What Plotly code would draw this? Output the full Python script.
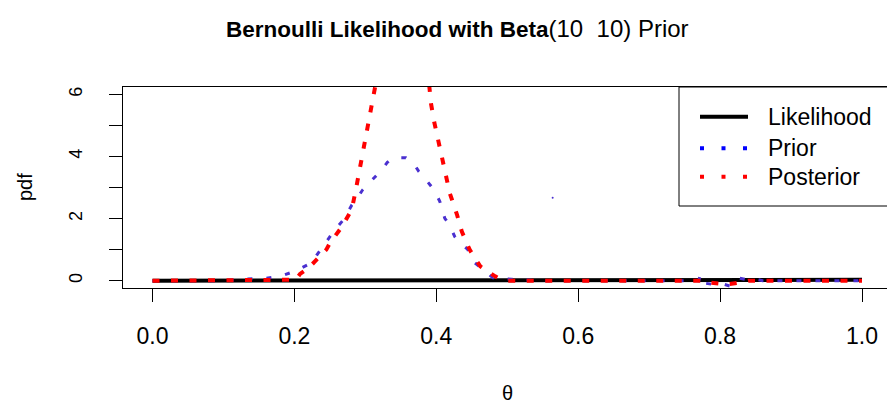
import plotly.graph_objects as go

# ---------------- data ----------------
theta_lik = [0.0, 0.23, 0.235, 1.0]
lik = [0.0, 0.0, 0.03, 0.03]

theta_prior = [0.0, 0.10, 0.13, 0.16, 0.18, 0.20, 0.21, 0.224, 0.232, 0.248, 0.257,
               0.269, 0.281, 0.287, 0.296, 0.307, 0.32, 0.331, 0.339, 0.351, 0.357,
               0.368, 0.375, 0.382, 0.388, 0.397, 0.405, 0.412, 0.418, 0.426, 0.435,
               0.444, 0.452, 0.463, 0.48, 0.506, 0.53, 0.55, 0.77, 0.772, 0.776,
               0.79, 0.80, 0.815, 0.826, 0.84, 0.85, 0.86, 1.0]
prior = [0.0, 0.0, 0.05, 0.08, 0.14, 0.30, 0.41, 0.57, 0.84, 1.37, 1.64,
         1.96, 2.44, 2.60, 2.92, 3.19, 3.49, 3.81, 3.96, 3.96, 3.96,
         3.78, 3.53, 3.35, 3.19, 2.92, 2.55, 2.01, 1.82, 1.42, 1.18,
         1.02, 0.62, 0.41, 0.09, 0.05, 0.03, 0.0, 0.0, 0.19, -0.07,
         -0.12, -0.08, -0.18, 0.09, 0.02, 0.05, 0.0, 0.0]

theta_post = [0.0, 0.19, 0.202, 0.208, 0.22, 0.245, 0.25, 0.267, 0.281, 0.287, 0.292,
              0.297, 0.301, 0.306, 0.311, 0.32, 0.335, 0.35, 0.365, 0.38, 0.39,
              0.3925, 0.397, 0.403, 0.408, 0.414, 0.419, 0.429, 0.436, 0.447, 0.462,
              0.483, 0.49, 0.50, 0.775, 0.78, 0.81, 0.83, 0.84, 1.0]
post = [0.0, 0.0, 0.03, 0.22, 0.41, 1.00, 1.21, 1.74, 2.30, 2.98, 3.57,
        4.16, 4.75, 5.33, 5.95, 7.0, 8.0, 8.3, 8.0, 7.2, 6.3,
        5.71, 5.12, 4.53, 3.94, 3.35, 2.82, 2.14, 1.58, 1.00, 0.46,
        0.14, 0.05, 0.0, 0.0, -0.05, -0.12, -0.05, 0.0, 0.0]

stray_theta = [0.564]
stray_val = [2.67]

x_ticks = [0.0, 0.2, 0.4, 0.6, 0.8, 1.0]
x_tick_labels = ["0.0", "0.2", "0.4", "0.6", "0.8", "1.0"]
y_ticks = [0, 2, 4, 6]
y_tick_labels = ["0", "2", "4", "6"]
legend_names = ["Likelihood", "Prior", "Posterior"]

# ---------------- layout geometry ----------------
W, H = 887, 405
L, T, B = 123, 87, 117
PW, PH = W - L, H - T - B
FONT = "Liberation Sans, Arial, sans-serif"


def px_x(px):
    return (px - L) / PW


def px_y(py):
    return (H - B - py) / PH


fig = go.Figure()
fig.add_trace(go.Scatter(x=theta_lik, y=lik, mode="lines",
                         line=dict(color="black", width=4), showlegend=False))
fig.add_trace(go.Scatter(x=theta_prior, y=prior, mode="lines",
                         line=dict(color="#4a30d0", width=3, dash="5px,14px"),
                         showlegend=False))
fig.add_trace(go.Scatter(x=theta_post, y=post, mode="lines",
                         line=dict(color="red", width=4, dash="7px,11.5px"),
                         showlegend=False))
fig.add_trace(go.Scatter(x=stray_theta, y=stray_val, mode="markers",
                         marker=dict(color="#4a30d0", size=2), showlegend=False))

# legend (drawn manually to mimic R's legend box)
shapes = [dict(type="rect", xref="paper", yref="paper",
               x0=px_x(679), x1=px_x(900), y0=px_y(206), y1=1.0,
               line=dict(color="black", width=1), fillcolor="white", layer="above")]
leg_styles = [dict(color="black", width=4),
              dict(color="blue", width=4, dash="4px,17.5px"),
              dict(color="red", width=4, dash="4px,17.5px")]
leg_rows = [116.7, 148.3, 176.7]
annotations = []
for name, st, row in zip(legend_names, leg_styles, leg_rows):
    shapes.append(dict(type="line", xref="paper", yref="paper",
                       x0=px_x(700), x1=px_x(748), y0=px_y(row), y1=px_y(row),
                       line=st, layer="above"))
    annotations.append(dict(text=name, xref="paper", yref="paper",
                            x=px_x(766), y=px_y(row), xanchor="left", yanchor="middle",
                            showarrow=False, font=dict(family=FONT, size=23, color="black")))

annotations.append(dict(text="pdf", xref="paper", yref="paper", x=px_x(25), y=px_y(187),
                        xanchor="center", yanchor="middle", textangle=-90, showarrow=False,
                        font=dict(family=FONT, size=20, color="black")))
annotations.append(dict(text="θ", xref="paper", yref="paper", x=px_x(507), y=px_y(393),
                        xanchor="center", yanchor="middle", showarrow=False,
                        font=dict(family=FONT, size=20, color="black")))

title_text = ("<b>Bernoulli Likelihood with Beta</b>"
              "<span style='font-weight:normal;font-size:24px'>(10&nbsp;&nbsp;10)&nbsp;Prior</span>")

fig.update_layout(
    width=W, height=H,
    margin=dict(l=L, r=0, t=T, b=B, pad=0),
    paper_bgcolor="white", plot_bgcolor="white",
    title=dict(text=title_text, x=226 / W, xanchor="left", y=1 - 29 / H, yanchor="middle",
               font=dict(family=FONT, size=22.5, color="black")),
    shapes=shapes, annotations=annotations,
    showlegend=False,
    xaxis=dict(range=[(L - 152.5) / 709.5, (W - 152.5) / 709.5],
               tickvals=x_ticks, ticktext=x_tick_labels,
               ticks="outside", ticklen=13, tickwidth=1, tickcolor="black",
               showline=True, linecolor="black", linewidth=1, mirror=True,
               showgrid=False, zeroline=False, ticklabelstandoff=14,
               tickfont=dict(family=FONT, size=23, color="black")),
    yaxis=dict(range=[-0.235, 6.24],
               tickvals=y_ticks, ticktext=y_tick_labels, tickangle=-90,
               ticks="outside", ticklen=13, tickwidth=1, tickcolor="black",
               minor=dict(dtick=1, ticks="outside", ticklen=13, tickwidth=1,
                          tickcolor="black", showgrid=False),
               showline=True, linecolor="black", linewidth=1, mirror=False,
               showgrid=False, zeroline=False, ticklabelstandoff=20,
               tickfont=dict(family=FONT, size=18, color="black")),
)

fig.write_html("out.html")
